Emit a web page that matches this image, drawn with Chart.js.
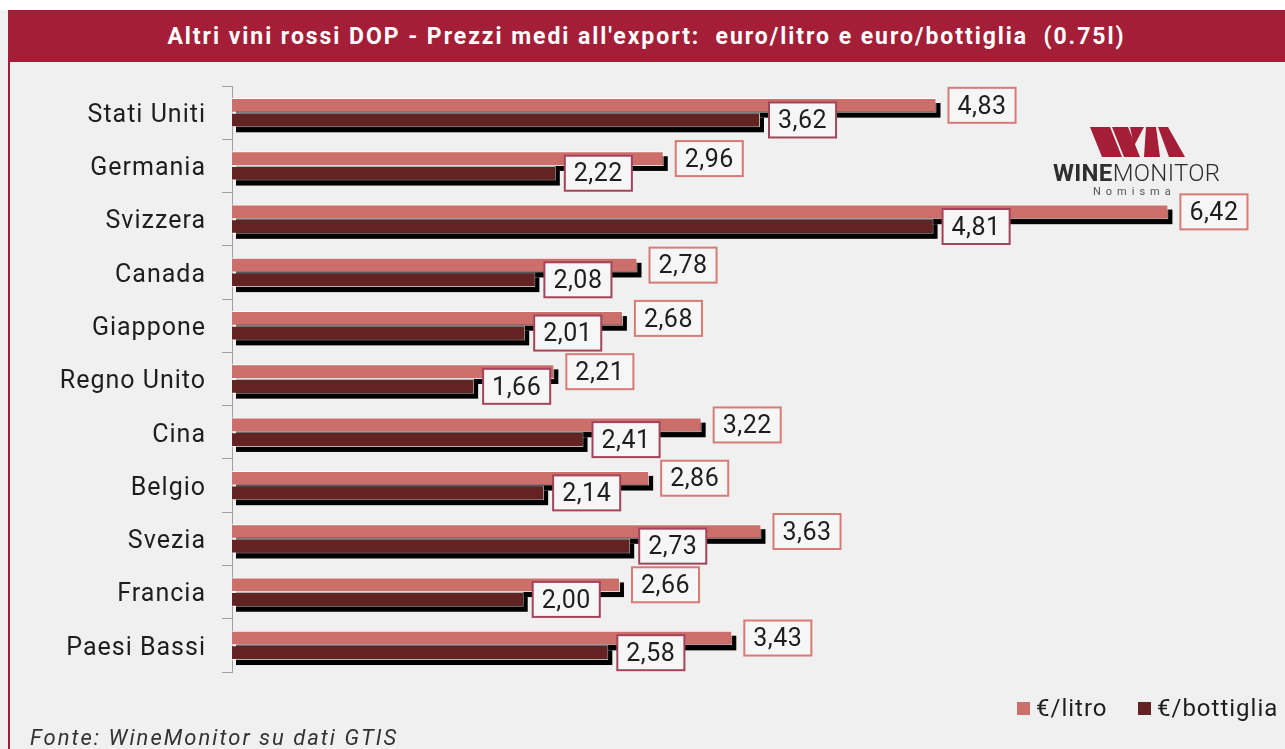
<!DOCTYPE html>
<html lang="it">
<head>
<meta charset="utf-8">
<title>Altri vini rossi DOP - Prezzi medi all'export</title>
<script src="https://cdn.jsdelivr.net/npm/chart.js@4.4.1/dist/chart.umd.min.js"></script>
<style>
  html, body { margin: 0; padding: 0; background: #ffffff; }
  #pagina { position: relative; width: 1285px; height: 749px; overflow: hidden; background: #f0f0f0; font-family: Roboto, "Open Sans", sans-serif; }
  #banda-alta { position: absolute; left: 0; top: 0; width: 1285px; height: 10px; background: #ffffff; }
  #titolo { position: absolute; left: 8px; top: 10px; width: 1277px; height: 52px; background: #a31e36;
    color: #ffffff; font-weight: bold; font-size: 23px; line-height: 54px; text-align: center; letter-spacing: 1.95px; white-space: pre; }
  #bordo-sx { position: absolute; left: 8px; top: 10px; width: 2px; height: 739px; background: #a31e36; }
  #grafico { position: absolute; left: 0; top: 0; }
  #logo { position: absolute; left: 1050px; top: 124px; width: 180px; height: 75px; }
  .voce { position: absolute; top: 694px; font-size: 24px; line-height: 28px; color: #1e1e1e; letter-spacing: 1px; white-space: nowrap; }
  .quadro { position: absolute; top: 702px; width: 13px; height: 13px; }
  #fonte { position: absolute; left: 30px; top: 725px; font-size: 22px; font-style: italic; color: #333; letter-spacing: 2px; white-space: nowrap; }
</style>
</head>
<body>
<div id="pagina">
  <div id="banda-alta"></div>
  <canvas id="grafico" width="1285" height="749"></canvas>
  <div id="titolo">Altri vini rossi DOP - Prezzi medi all'export:  euro/litro e euro/bottiglia  (0.75l)</div>
  <div id="bordo-sx"></div>
  <svg id="logo" viewBox="0 0 180 75">
    <g fill="#a31e36">
      <polygon points="40,3 60,3 72,33 52,33"/>
      <polygon points="62,3 78,3 90,33 74,33"/>
      <polygon points="80,3 94,3 84,22"/>
      <polygon points="96,3 106,3 110,33 94,33"/>
      <polygon points="108,3 118,3 135,33 119,33"/>
    </g>
    <text x="3" y="57" font-family="Roboto, sans-serif" font-size="24" fill="#2e2e2e" letter-spacing="0.3"><tspan font-weight="bold">WINE</tspan><tspan font-weight="300">MONITOR</tspan></text>
    <text x="43" y="71" font-family="Roboto, sans-serif" font-size="11" letter-spacing="5" fill="#555">Nomisma</text>
  </svg>
  <div class="quadro" style="left:1017px; background:#cc6f6b"></div>
  <div class="voce" style="left:1036px">€/litro</div>
  <div class="quadro" style="left:1138px; background:#632323"></div>
  <div class="voce" style="left:1157px">€/bottiglia</div>
  <div id="fonte">Fonte: WineMonitor su dati GTIS</div>
</div>
<script>
const paesi = ['Stati Uniti', 'Germania', 'Svizzera', 'Canada', 'Giappone', 'Regno Unito',
  'Cina', 'Belgio', 'Svezia', 'Francia', 'Paesi Bassi'];
const euroLitro = [4.83, 2.96, 6.42, 2.78, 2.68, 2.21, 3.22, 2.86, 3.63, 2.66, 3.43];
const euroBottiglia = [3.62, 2.22, 4.81, 2.08, 2.01, 1.66, 2.41, 2.14, 2.73, 2.00, 2.58];

const coloreLitro = '#cc6f6b';
const coloreBottiglia = '#632323';

// spaziatura lettere per le etichette dell'asse
const spaziatura = {
  id: 'spaziatura',
  beforeDraw(chart) {
    chart.ctx.letterSpacing = '1px';
  }
};

// ombra nera sotto le barre (stile Excel)
const ombraBarre = {
  id: 'ombraBarre',
  beforeDatasetsDraw(chart) {
    const ctx = chart.ctx;
    ctx.save();
    ctx.fillStyle = '#000000';
    chart.data.datasets.forEach((ds, i) => {
      const meta = chart.getDatasetMeta(i);
      meta.data.forEach(bar => {
        const p = bar.getProps(['x', 'y', 'base', 'height'], true);
        ctx.fillRect(p.base + 4, p.y - p.height / 2 + 5, p.x - p.base, p.height);
      });
    });
    ctx.restore();
  }
};

// etichette con riquadro
const etichette = {
  id: 'etichette',
  afterDatasetsDraw(chart) {
    const ctx = chart.ctx;
    ctx.save();
    ctx.letterSpacing = '0.5px';
    ctx.font = '25px Roboto, sans-serif';
    ctx.textBaseline = 'middle';
    chart.data.datasets.forEach((ds, i) => {
      const meta = chart.getDatasetMeta(i);
      meta.data.forEach((bar, j) => {
        const p = bar.getProps(['x', 'y'], true);
        const testo = ds.data[j].toFixed(2).replace('.', ',');
        const w = ctx.measureText(testo).width + 18;
        const h = 35;
        const x0 = p.x + (i === 0 ? 12 : 9);
        const y0 = p.y - h / 2;
        ctx.fillStyle = '#f6f6f6';
        ctx.fillRect(x0, y0, w, h);
        ctx.lineWidth = 2;
        ctx.strokeStyle = ds.cornice;
        ctx.strokeRect(x0, y0, w, h);
        ctx.fillStyle = '#1e1e1e';
        ctx.fillText(testo, x0 + 9, p.y + 2);
      });
    });
    ctx.restore();
  }
};

new Chart(document.getElementById('grafico'), {
  type: 'bar',
  data: {
    labels: paesi,
    datasets: [
      {
        label: '€/litro',
        data: euroLitro,
        backgroundColor: coloreLitro,
        borderColor: 'rgba(255,255,255,0.85)',
        borderWidth: 1,
        borderSkipped: 'start',
        cornice: '#d87a75'
      },
      {
        label: '€/bottiglia',
        data: euroBottiglia,
        backgroundColor: coloreBottiglia,
        borderColor: 'rgba(255,255,255,0.7)',
        borderWidth: 1,
        borderSkipped: 'start',
        cornice: '#a3445c'
      }
    ]
  },
  options: {
    indexAxis: 'y',
    responsive: false,
    animation: false,
    categoryPercentage: 0.55,
    barPercentage: 1,
    layout: { padding: { top: 86, bottom: 77, left: 0, right: 32 } },
    plugins: {
      legend: { display: false },
      tooltip: { enabled: false },
      title: { display: false }
    },
    scales: {
      x: { display: false, min: 0, max: 7 },
      y: {
        afterFit(scale) { scale.width = 232; },
        border: { display: true, color: '#a0a0a0', width: 1 },
        grid: { drawOnChartArea: false, drawTicks: true, tickLength: 10, offset: true, color: '#a0a0a0' },
        ticks: { color: '#1e1e1e', font: { family: 'Roboto', size: 25 }, padding: 16, labelOffset: 3 }
      }
    }
  },
  plugins: [spaziatura, ombraBarre, etichette]
});
</script>
</body>
</html>
